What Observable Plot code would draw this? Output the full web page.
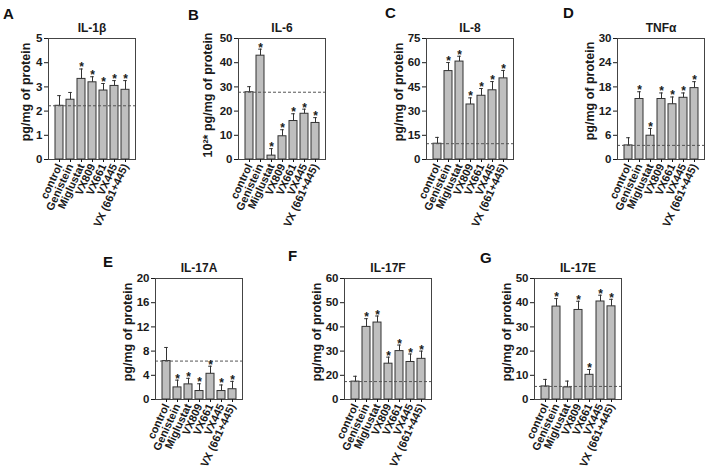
<!DOCTYPE html>
<html><head><meta charset="utf-8">
<script src="https://cdn.jsdelivr.net/npm/d3@7"></script>
<script src="https://cdn.jsdelivr.net/npm/@observablehq/plot@0.6"></script>
<style>
html,body{margin:0;padding:0;background:#fff;}
#root{position:relative;width:708px;height:469px;overflow:hidden;font-family:"Liberation Sans",Arial,sans-serif;}
.panel{position:absolute;}
.letter{position:absolute;font-weight:bold;font-size:15px;line-height:15px;color:#111;}
</style></head><body><div id="root"></div>
<script>
// ---- data ----
const categories = ["control","Genistein","Miglustat","VX809","VX661","VX445","VX (661+445)"];
const letters = ["A","B","C","D","E","F","G"];
const titles = ["IL-1β","IL-6","IL-8","TNFα","IL-17A","IL-17F","IL-17E"];
const yLabels = ["pg/mg of protein","10²* pg/mg of protein","pg/mg of protein","pg/mg of protein","pg/mg of protein","pg/mg of protein","pg/mg of protein"];

const il1bMean  = [2.22, 2.47, 3.33, 3.19, 2.85, 3.04, 2.88];
const il1bUpper = [2.64, 2.77, 3.74, 3.42, 3.14, 3.26, 3.26];
const il1bSig   = [0, 0, 1, 1, 1, 1, 1];
const il1bTicks = [0, 1, 2, 3, 4, 5];

const il6Mean  = [27.8, 42.9, 1.6, 9.6, 15.9, 18.9, 15.1];
const il6Upper = [30.1, 45.6, 4.5, 12.3, 18.9, 20.8, 17.3];
const il6Sig   = [0, 1, 1, 1, 1, 1, 1];
const il6Ticks = [0, 10, 20, 30, 40, 50];

const il8Mean  = [9.8, 54.8, 60.7, 34.1, 39.5, 42.9, 50.3];
const il8Upper = [13.7, 60.1, 64.0, 38.2, 44.0, 48.3, 55.2];
const il8Sig   = [0, 1, 1, 1, 1, 1, 1];
const il8Ticks = [0, 15, 30, 45, 60, 75];

const tnfMean  = [3.5, 15.0, 5.9, 15.0, 13.7, 15.3, 17.7];
const tnfUpper = [5.4, 16.8, 7.7, 16.5, 15.5, 16.5, 19.3];
const tnfSig   = [0, 1, 1, 1, 1, 1, 1];
const tnfTicks = [0, 6, 12, 18, 24, 30];

const il17aMean  = [6.35, 2.0, 2.5, 1.4, 4.25, 1.4, 1.7];
const il17aUpper = [8.6, 3.2, 3.5, 2.6, 5.5, 2.4, 3.0];
const il17aSig   = [0, 1, 1, 1, 1, 1, 1];
const il17aTicks = [0, 4, 8, 12, 16, 20];

// IL-17F axis is broken: 0–20 occupies the same height as one 10-unit step
const il17fMean  = [14.8, 40.0, 41.8, 24.8, 30.0, 25.5, 26.8];
const il17fUpper = [19.2, 43.4, 44.5, 27.5, 32.5, 28.8, 30.0];
const il17fSig   = [0, 1, 1, 1, 1, 1, 1];
const il17fTicks = [0, 20, 30, 40, 50, 60];

const il17eMean  = [5.4, 38.4, 5.0, 37.0, 10.2, 40.5, 38.5];
const il17eUpper = [8.3, 41.7, 7.6, 40.6, 12.4, 43.1, 41.4];
const il17eSig   = [0, 1, 0, 1, 1, 1, 1];
const il17eTicks = [0, 10, 20, 30, 40, 50];

// ---- layout ----
const panels = [
  {mean: il1bMean,  upper: il1bUpper,  sig: il1bSig,  ticks: il1bTicks,  left: 48,  top: 38,  lx: 3,   ly: 6,   yOff: -23, yDy: -7},
  {mean: il6Mean,   upper: il6Upper,   sig: il6Sig,   ticks: il6Ticks,   left: 238, top: 38,  lx: 188, ly: 7,   yOff: -31, yDy: -4},
  {mean: il8Mean,   upper: il8Upper,   sig: il8Sig,   ticks: il8Ticks,   left: 426, top: 38,  lx: 385, ly: 5,   yOff: -28, yDy: -7},
  {mean: tnfMean,   upper: tnfUpper,   sig: tnfSig,   ticks: tnfTicks,   left: 617, top: 38,  lx: 563, ly: 5,   yOff: -28, yDy: -8},
  {mean: il17aMean, upper: il17aUpper, sig: il17aSig, ticks: il17aTicks, left: 155, top: 278, lx: 103, ly: 254, yOff: -28, yDy: -7},
  {mean: il17fMean, upper: il17fUpper, sig: il17fSig, ticks: il17fTicks, left: 344, top: 278, lx: 288, ly: 248, yOff: -28, yDy: -7},
  {mean: il17eMean, upper: il17eUpper, sig: il17eSig, ticks: il17eTicks, left: 534, top: 278, lx: 480, ly: 250, yOff: -28, yDy: -7}
];

const root = document.getElementById("root");
const ML = 48, MT = 38, MR = 4, MB = 82, PW = 87, PH = 121;
const W = ML + PW + MR, H = MT + PH + MB;
const ink = "#1a1a1a";

panels.forEach((p, k) => {
  const rows = categories.map((c, i) => ({c, mean: p.mean[i], upper: p.upper[i], sig: p.sig[i]}));
  // piecewise mapping so that consecutive tick values are evenly spaced (identity-like for regular axes)
  const idx = d3.scaleLinear().domain(p.ticks).range(p.ticks.map((t, i) => i));
  const chart = Plot.plot({
    width: W, height: H,
    marginLeft: ML, marginTop: MT, marginRight: MR, marginBottom: MB,
    style: {fontFamily: "'Liberation Sans', Arial, sans-serif", fontWeight: "bold", color: ink, background: "transparent", overflow: "visible"},
    x: {type: "band", domain: categories, padding: 0.3, label: null},
    y: {type: "linear", transform: v => idx(v), domain: [0, p.ticks.length - 1], label: null},
    marks: [
      Plot.barY(rows, {x: "c", y1: 0, y2: "mean", fill: "#bfbfbf", stroke: "#333", strokeWidth: 1}),
      Plot.ruleX(rows, {x: "c", y1: "mean", y2: "upper", stroke: "#333", strokeWidth: 1}),
      Plot.tickY(rows, {x: "c", y: "upper", insetLeft: 2.2, insetRight: 2.2, stroke: "#333", strokeWidth: 1}),
      Plot.ruleY([p.mean[0]], {stroke: "#555", strokeWidth: 1, strokeDasharray: "3,2"}),
      Plot.text(rows.filter(d => d.sig), {x: "c", y: "upper", text: () => "*", fontSize: 12, lineAnchor: "bottom", dy: 2.5, fill: ink}),
      Plot.frame({stroke: "#444", strokeWidth: 1}),
      Plot.axisY(p.ticks, {tickSize: 4, tickPadding: 2, fontSize: 11.5, label: null, tickFormat: d => String(d)}),
      Plot.axisX({tickRotate: -65, tickSize: 3, tickPadding: 2, fontSize: 11, label: null}),
      Plot.text([yLabels[k]], {frameAnchor: "left", textAnchor: "middle", rotate: -90, dx: p.yOff, dy: p.yDy, fontSize: 12.5, text: d => d, fill: ink}),
      Plot.text([titles[k]], {frameAnchor: "top", lineAnchor: "bottom", dy: -7, fontSize: 12, text: d => d, fill: ink})
    ]
  });
  const wrap = document.createElement("div");
  wrap.className = "panel";
  wrap.style.left = (p.left - ML) + "px";
  wrap.style.top = (p.top - MT) + "px";
  wrap.appendChild(chart);
  root.appendChild(wrap);

  const lt = document.createElement("div");
  lt.className = "letter";
  lt.style.left = p.lx + "px";
  lt.style.top = p.ly + "px";
  lt.textContent = letters[k];
  root.appendChild(lt);
});
</script>
</body></html>
